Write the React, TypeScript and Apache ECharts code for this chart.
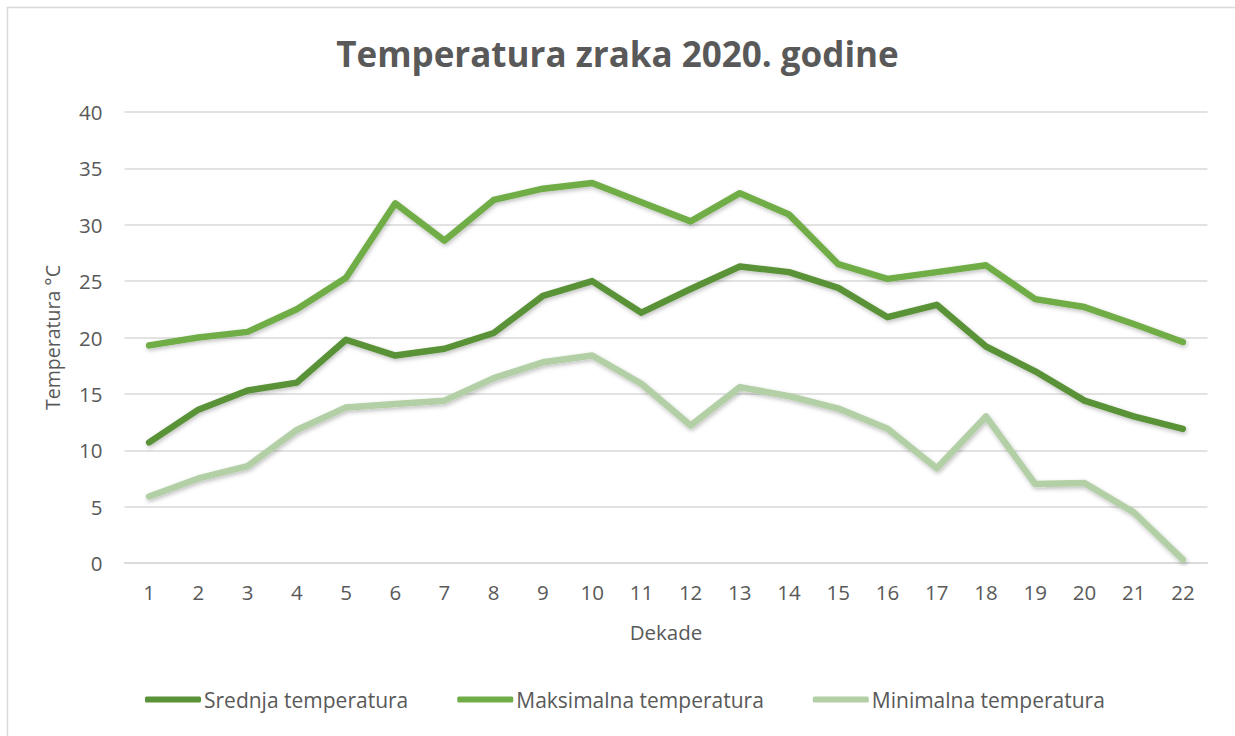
import React, { useEffect, useRef } from "react";
import * as echarts from "echarts";

const categories = ["1","2","3","4","5","6","7","8","9","10","11","12","13","14","15","16","17","18","19","20","21","22"];
const srednja = [10.7, 13.6, 15.3, 16.0, 19.8, 18.4, 19.0, 20.4, 23.7, 25.0, 22.2, 24.3, 26.3, 25.8, 24.4, 21.8, 22.9, 19.2, 17.0, 14.4, 13.0, 11.9];
const maksimalna = [19.3, 20.0, 20.5, 22.5, 25.3, 31.9, 28.6, 32.2, 33.2, 33.7, 32.0, 30.3, 32.8, 30.9, 26.5, 25.2, 25.8, 26.4, 23.4, 22.7, 21.2, 19.6];
const minimalna = [5.9, 7.5, 8.6, 11.8, 13.8, 14.1, 14.4, 16.4, 17.8, 18.4, 15.9, 12.2, 15.6, 14.8, 13.7, 11.9, 8.4, 13.0, 7.0, 7.1, 4.5, 0.3];

const seriesNames = ["Srednja temperatura", "Maksimalna temperatura", "Minimalna temperatura"];
const colors = ["#5a9237", "#70ad47", "#b2cfa5"];

const FONT = "'Open Sans', sans-serif";
const TXT = "#595959";

export default function App() {
  const ref = useRef<HTMLDivElement>(null);
  useEffect(() => {
    document.body.style.margin = "0";
    const chart = echarts.init(ref.current!, null, { renderer: "svg" });
    const mk = (name: string, data: number[], color: string) => ({
      name,
      type: "line",
      data,
      symbol: "none",
      color,
      lineStyle: {
        width: 6.5,
        color,
        cap: "round",
        join: "round",
        shadowColor: "rgba(0,0,0,0.25)",
        shadowBlur: 4,
        shadowOffsetY: 2,
        shadowOffsetX: 1,
      },
      z: 3,
    });
    chart.setOption({
      animation: false,
      backgroundColor: "#ffffff",
      textStyle: { fontFamily: FONT },
      title: {
        text: "Temperatura zraka 2020. godine",
        left: "center",
        top: 31,
        textStyle: { fontFamily: FONT, fontSize: 35, fontWeight: "bold", color: TXT },
      },
      graphic: [
        {
          type: "rect",
          shape: { x: 7.5, y: 7.5, width: 1260, height: 760 },
          style: { fill: "none", stroke: "#d9d9d9", lineWidth: 1.5 },
          silent: true,
          z: -10,
        },
      ],
      legend: {
        bottom: 21,
        left: 140,
        itemWidth: 56,
        itemHeight: 6,
        itemGap: 49,
        icon: "roundRect",
        textStyle: { fontFamily: FONT, fontSize: 21, color: TXT, padding: [0, 0, 0, -2] },
        data: seriesNames,
      },
      grid: { left: 124.5, right: 27.5, top: 112, bottom: 173, containLabel: false },
      xAxis: {
        type: "category",
        data: categories,
        boundaryGap: true,
        name: "Dekade",
        nameLocation: "middle",
        nameGap: 58,
        nameTextStyle: { fontFamily: FONT, fontSize: 20.5, color: TXT },
        axisLine: { show: true, lineStyle: { color: "#d9d9d9", width: 1.5 } },
        axisTick: { show: false },
        axisLabel: { fontFamily: FONT, fontSize: 20.5, color: TXT, margin: 18 },
      },
      yAxis: {
        type: "value",
        min: 0,
        max: 40,
        interval: 5,
        name: "Temperatura °C",
        nameLocation: "middle",
        nameGap: 62,
        nameTextStyle: { fontFamily: FONT, fontSize: 19.5, color: TXT },
        axisLine: { show: false },
        axisTick: { show: false },
        axisLabel: { fontFamily: FONT, fontSize: 20.5, color: TXT, margin: 22 },
        splitLine: { lineStyle: { color: "#d9d9d9", width: 1.5 } },
      },
      series: [
        mk(seriesNames[0], srednja, colors[0]),
        mk(seriesNames[1], maksimalna, colors[1]),
        mk(seriesNames[2], minimalna, colors[2]),
      ],
    });
    return () => chart.dispose();
  }, []);
  return <div ref={ref} style={{ width: 1235, height: 736 }} />;
}
